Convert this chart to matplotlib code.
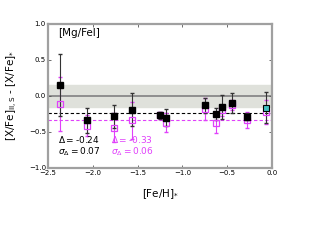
import matplotlib
matplotlib.use("Agg")
import matplotlib.pyplot as plt

# black filled squares (one cyan at the end)
fe_h    = [-2.37, -2.07, -1.76, -1.56, -1.25, -1.18, -0.75, -0.62, -0.56, -0.45, -0.28, -0.07]
d_black = [0.15, -0.34, -0.28, -0.19, -0.27, -0.30, -0.13, -0.25, -0.15, -0.10, -0.29, -0.16]
e_black = [0.43, 0.18, 0.16, 0.23, 0.05, 0.12, 0.10, 0.08, 0.17, 0.14, 0.05, 0.22]
# magenta open squares
d_mag   = [-0.11, -0.41, -0.44, -0.34, -0.27, -0.37, -0.18, -0.38, -0.20, -0.12, -0.33, -0.22]
e_mag   = [0.37, 0.14, 0.20, 0.26, 0.05, 0.13, 0.15, 0.14, 0.08, 0.07, 0.11, 0.17]

delta_black, sigma_black = -0.24, 0.07
delta_mag, sigma_mag = -0.33, 0.06

MAG = "#e040fb"
SPINE = "#a0a0a0"

fig = plt.figure(figsize=(3.2, 2.4), dpi=100)
ax = fig.add_axes([0.15, 0.30, 0.70, 0.60])

ax.axhspan(-0.15, 0.15, color="#dfe1db", zorder=0)
ax.axhline(0.0, color="#888888", lw=1.3, zorder=1)
ax.axhline(delta_black, color="black", lw=0.8, ls="--", dashes=(3, 2), zorder=1)
ax.axhline(delta_mag, color=MAG, lw=0.8, ls="--", dashes=(3, 2), zorder=1)

# error bars first, markers on top
ax.errorbar(fe_h, d_mag, yerr=e_mag, fmt="none", ecolor=MAG, elinewidth=0.8,
            capsize=1.5, zorder=2)
ax.errorbar(fe_h, d_black, yerr=e_black, fmt="none", ecolor="#333333",
            elinewidth=0.8, capsize=1.5, zorder=2.5)
ax.plot(fe_h, d_mag, "s", mfc="none", mec=MAG, ms=5, mew=0.9, zorder=3)
ax.plot(fe_h[:-1], d_black[:-1], "s", color="black", ms=5, zorder=4)
ax.plot(fe_h[-1:], d_black[-1:], "s", mfc="#40c0c0", mec="black", ms=5,
        mew=0.8, zorder=4)

ax.text(-2.39, 0.87, "[Mg/FeI]", fontsize=7.5, va="center")
ax.text(-2.39, -0.60, r"$\Delta = $" + f"{delta_black:.2f}", fontsize=6.5, va="center")
ax.text(-2.39, -0.77, r"$\sigma_\Delta = $" + f"{sigma_black:.2f}", fontsize=6.5, va="center")
ax.text(-1.80, -0.60, r"$\Delta = $" + f"{delta_mag:.2f}", fontsize=6.5, va="center", color=MAG)
ax.text(-1.80, -0.77, r"$\sigma_\Delta = $" + f"{sigma_mag:.2f}", fontsize=6.5, va="center", color=MAG)

ax.set_xlim(-2.5, 0.0)
ax.set_ylim(-1.0, 1.0)
ax.set_xticks([-2.5, -2.0, -1.5, -1.0, -0.5, 0.0])
ax.set_yticks([-1.0, -0.5, 0.0, 0.5, 1.0])
ax.tick_params(direction="in", top=True, right=True, labelsize=5, length=2,
               width=0.6, pad=1.5, colors="#555555", labelcolor="black")
for s in ax.spines.values():
    s.set_color(SPINE)
    s.set_linewidth(1.6)

ax.set_xlabel(r"[Fe/H]$_{*}$", fontsize=7.5, labelpad=8)
ax.set_ylabel(r"[X/Fe]$_{\rm II,S}$ - [X/Fe]$_{*}$", fontsize=7.5, labelpad=6)

fig.savefig("out.png", dpi=100)
